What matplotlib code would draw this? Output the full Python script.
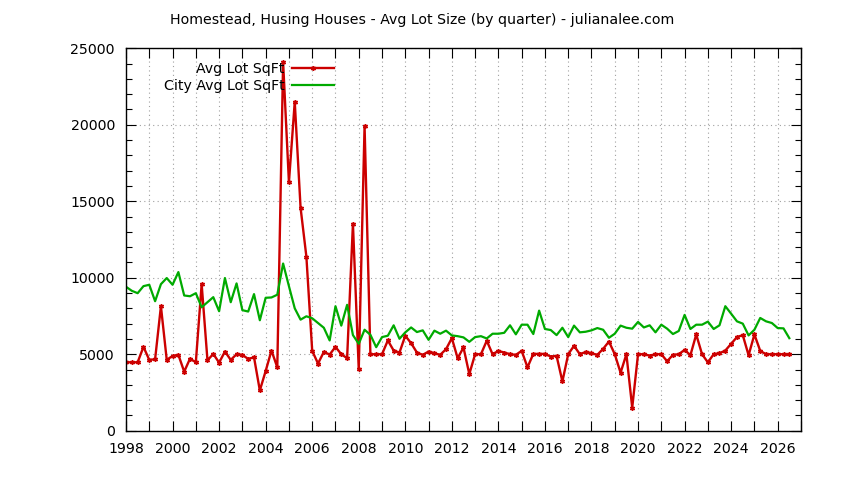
import numpy as np
import matplotlib
matplotlib.use("Agg")
import matplotlib.pyplot as plt
from matplotlib.ticker import MultipleLocator, FuncFormatter

# quarterly values, 1998 Q1 .. 2026 Q3
start_year = 1998
avg_lot = [
    4474, 4474, 4474, 5480,     # 1998
    4630, 4670, 8135, 4630,     # 1999
    4890, 4960, 3860, 4710,     # 2000
    4470, 9580, 4600, 5020,     # 2001
    4450, 5175, 4630, 5000,     # 2002
    4960, 4690, 4800, 2630,     # 2003
    3900, 5240, 4145, 24100,    # 2004
    16240, 21500, 14580, 11380, # 2005
    5220, 4390, 5150, 4980,     # 2006
    5480, 5000, 4740, 13530,    # 2007
    4010, 19920, 5000, 5000,    # 2008
    5000, 5900, 5240, 5110,     # 2009
    6210, 5720, 5110, 4960,     # 2010
    5175, 5065, 4960, 5330,     # 2011
    6050, 4740, 5440, 3700,     # 2012
    5000, 5000, 5880, 5000,     # 2013
    5220, 5110, 5000, 4960,     # 2014
    5220, 4145, 5020, 5020,     # 2015
    5020, 4850, 4890, 3220,     # 2016
    5000, 5550, 5000, 5150,     # 2017
    5065, 4960, 5350, 5830,     # 2018
    5000, 3790, 5000, 1510,     # 2019
    5000, 5000, 4910, 5000,     # 2020
    5000, 4540, 4960, 5000,     # 2021
    5285, 4935, 6290, 5000,     # 2022
    4470, 5000, 5065, 5240,     # 2023
    5680, 6120, 6250, 4935,     # 2024
    6290, 5220, 5000, 5000,     # 2025
    5000, 5000, 5000,           # 2026
]
city_avg_lot = [
    9410, 9145, 8990, 9450,
    9540, 8465, 9580, 9980,
    9540, 10370, 8840, 8790,
    8990, 8070, 8400, 8730,
    7810, 9980, 8400, 9630,
    7880, 7790, 8930, 7220,
    8690, 8710, 8890, 10930,
    9450, 8000, 7260, 7480,
    7350, 7040, 6730, 5900,
    8140, 6870, 8230, 6250,
    5680, 6600, 6270, 5460,
    6120, 6210, 6890, 6010,
    6430, 6750, 6450, 6560,
    5940, 6540, 6340, 6540,
    6230, 6180, 6100, 5810,
    6120, 6180, 6030, 6340,
    6340, 6400, 6890, 6300,
    6930, 6930, 6320, 7850,
    6650, 6580, 6250, 6730,
    6120, 6870, 6430, 6470,
    6560, 6710, 6600, 6075,
    6340, 6870, 6730, 6670,
    7110, 6750, 6890, 6430,
    6930, 6670, 6320, 6520,
    7570, 6650, 6930, 6930,
    7130, 6650, 6890, 8140,
    7650, 7150, 7000, 6230,
    6600, 7370, 7150, 7040,
    6710, 6690, 6050,
]
dates = start_year + np.arange(len(avg_lot)) * 0.25

plt.rcParams['font.family'] = ['DejaVu Sans']

fig = plt.figure(figsize=(8.44, 4.80), dpi=100)
ax = fig.add_axes([0.1493, 0.1027, 0.7997, 0.7967])

ax.plot(dates, avg_lot, color='#cc0000', lw=1.7, marker=(6, 2, 0), ms=3.5,
        mew=1.0, label='Avg Lot SqFt')
ax.plot(dates, city_avg_lot, color='#00aa00', lw=1.6, label='City Avg Lot SqFt')

ax.set_xlim(1998, 2027)
ax.set_ylim(0, 25000)
ax.xaxis.set_major_locator(MultipleLocator(2))
ax.xaxis.set_minor_locator(MultipleLocator(1))
ax.xaxis.set_major_formatter(FuncFormatter(lambda v, p: '%d' % v))
ax.yaxis.set_major_locator(MultipleLocator(5000))
ax.yaxis.set_minor_locator(MultipleLocator(1000))

ax.tick_params(which='both', direction='in', top=True, right=True,
               labelsize=10.2, width=0.8)
ax.tick_params(which='major', length=7)
ax.tick_params(which='minor', length=4)
ax.tick_params(axis='x', which='minor', length=7)
ax.tick_params(axis='y', pad=8)
ax.tick_params(axis='x', pad=8)

ax.grid(True, which='major', axis='y', color='#a0a0a0', ls=(0, (1, 3)), lw=0.8)
ax.grid(True, which='both', axis='x', color='#a0a0a0', ls=(0, (1, 3)), lw=0.8)
for s in ax.spines.values():
    s.set_linewidth(1.0)

ax.legend(loc='upper right', bbox_to_anchor=(0.325, 0.995), frameon=False,
          markerfirst=False, fontsize=10.2, handlelength=3.0, handletextpad=0.5,
          labelspacing=0.25, borderpad=0.3)

fig.text(0.5, 0.958, 'Homestead, Husing Houses - Avg Lot Size (by quarter) - julianalee.com',
         ha='center', va='center', fontsize=10.2)

fig.savefig('out.png', dpi=100)
